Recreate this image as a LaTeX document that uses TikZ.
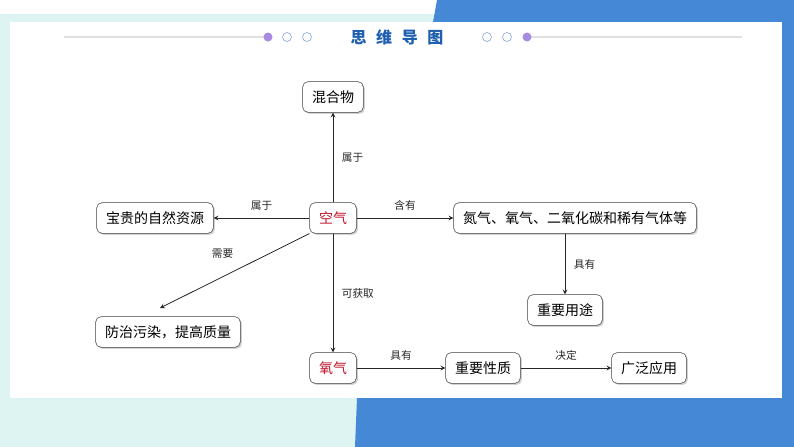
\documentclass[tikz,border=0pt]{standalone}
\usepackage{fontspec}
\setmainfont{Noto Sans CJK SC}
\usetikzlibrary{shadows}
\definecolor{bandblue}{HTML}{4589D6}
\definecolor{frameteal}{HTML}{DDF4F3}
\definecolor{titleblue}{HTML}{1F5FB0}
\definecolor{dotpurple}{HTML}{A78BE0}
\definecolor{keyred}{HTML}{C0142C}
\tikzset{
  box/.style={draw=black!75, rounded corners=4pt, fill=white, minimum height=23pt,
    inner xsep=7pt, font=\fontsize{10.5}{12}\selectfont, drop shadow={shadow xshift=1.2pt, shadow yshift=-1.2pt, opacity=0.35}},
  keybox/.style={box, text=keyred},
  link/.style={->, >=stealth, semithick, black!85},
  tag/.style={font=\fontsize{8}{10}\selectfont, black!85}
}
\begin{document}
\begin{tikzpicture}[x=0.75pt, y=-0.75pt]
   \useasboundingbox (0,0) rectangle (794,447);

   % background
   \fill[frameteal] (0,14) rectangle (794,447);
   \fill[white] (0,0) rectangle (437,14);
   \fill[bandblue] (437,0) -- (794,0) -- (794,447) -- (355,447) -- (357,398) -- (782,398) -- (782,22) -- (433,22) -- cycle;
   \fill[white] (10,22) rectangle (782,398);

   % title
   \draw[black!12, line width=1pt] (64,37) -- (268,37);
   \draw[black!12, line width=1pt] (529,37) -- (742,37);
   \fill[dotpurple] (268,37) circle (4.5);
   \draw[titleblue!60] (287,37) circle (4.5);
   \draw[titleblue!60] (307,37) circle (4.5);
   \draw[titleblue!60] (487,37) circle (4.5);
   \draw[titleblue!60] (507,37) circle (4.5);
   \fill[dotpurple] (527,37) circle (4.5);
   \node[font=\large\bfseries, text=titleblue] (title) at (397,37) {思\hspace{0.6em}维\hspace{0.6em}导\hspace{0.6em}图};

   % nodes
   \node[keybox] (air) at (333,218) {空气};
   \node[box] (mix) at (333,97) {混合物};
   \node[box] (res) at (155,218) {宝贵的自然资源};
   \node[box] (gas) at (575,218) {氮气、氧气、二氧化碳和稀有气体等};
   \node[box] (use) at (565,310) {重要用途};
   \node[box] (prot) at (168,332) {防治污染，提高质量};
   \node[keybox] (oxy) at (333,368) {氧气};
   \node[box] (prop) at (483,368) {重要性质};
   \node[box] (app) at (649,368) {广泛应用};
   \coordinate (protend) at (160,308);

   % links
   \draw[link] (air) -- node[tag, right=3pt] {属于} (mix);
   \draw[link] (air) -- node[tag, above=2pt] {属于} (res);
   \draw[link] (air) -- node[tag, above=2pt] {含有} (gas);
   \draw[link] (air) -- node[tag, right=3pt] {可获取} (oxy);
   \draw[link] (air.south west) -- node[tag, above left=3pt, pos=0.45] {需要} (protend);
   \draw[link] (gas.south -| use) -- node[tag, right=3pt] {具有} (use);
   \draw[link] (oxy) -- node[tag, above=2pt] {具有} (prop);
   \draw[link] (prop) -- node[tag, above=2pt] {决定} (app);
\end{tikzpicture}
\end{document}
